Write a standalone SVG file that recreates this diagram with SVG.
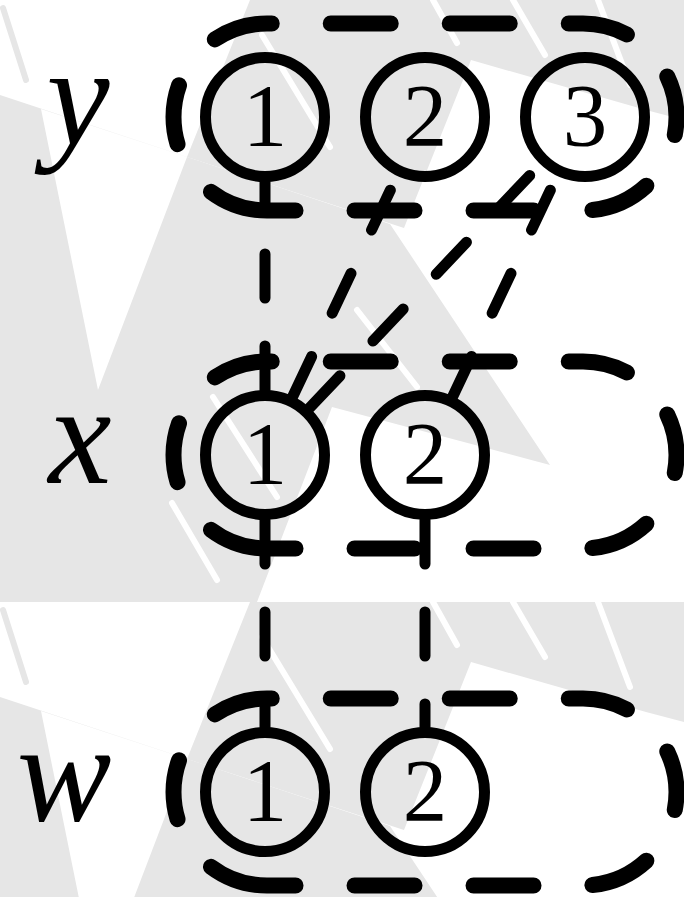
<svg xmlns="http://www.w3.org/2000/svg" width="684" height="897" viewBox="0 0 684 897">
<style>
.wm{fill:#e6e6e6;stroke:none}
.wml{stroke:#fff;stroke-width:6;stroke-linecap:round;fill:none}
.wmg{stroke:#e6e6e6;stroke-width:6;stroke-linecap:round;fill:none}
.box{fill:none;stroke:#000;stroke-width:16;stroke-linecap:round;stroke-dasharray:60 59}
.node{fill:none;stroke:#000;stroke-width:11}
.edge{fill:none;stroke:#000;stroke-width:11;stroke-linecap:round;stroke-dasharray:44 48}
.num{font-family:"Liberation Serif","Times New Roman",serif;font-size:89px;text-anchor:middle;fill:#000}
.lab{font-family:"Liberation Serif","Times New Roman",serif;font-style:italic;font-size:142px;text-anchor:middle;fill:#000}
</style>
<defs>
<g id="tile">
<path class="wm" fill-rule="evenodd" d="M0 95 L390 224 L550 465 L332 407 L257 602 L0 602 Z M41 109 L187 157 L98 390 Z"/>
<path class="wm" d="M250 0 H684 V120 L646 110 L471 60 L404 228 L187 157 Z"/>
<path class="wmg" d="M3 8 L26 80"/>
<path class="wml" d="M433 0 L457 43 M513 0 L545 55 M598 0 L630 85 M357 310 L417 387 M213 397 L277 497 M172 503 L217 580 M262 35 L330 147"/>
</g>
<path id="boxp" d="M267 93.5 A93.5 93.5 0 0 1 267 -93.5 H583 A93.5 93.5 0 0 1 583 93.5 Z"/>
</defs>
<g id="watermark">
<use href="#tile"/>
<use href="#tile" y="602"/>
</g>
<g id="group-y">
<use href="#boxp" class="box" y="117"/>
<text class="lab" x="78" y="145">y</text>
</g>
<g id="group-x">
<use href="#boxp" class="box" y="455"/>
<text class="lab" x="80" y="483">x</text>
</g>
<g id="group-w">
<use href="#boxp" class="box" y="792"/>
<text class="lab" x="64" y="821">w</text>
</g>
<g id="connectors">
<path class="edge" d="M265 390 L265 182"/>
<path class="edge" d="M292.8 396.3 L397.2 175.7"/>
<path class="edge" d="M309.7 407.8 L540.3 164.2"/>
<path class="edge" d="M452.8 396.3 L557.2 175.7"/>
<path class="edge" d="M265 520 L265 727"/>
<path class="edge" d="M425 520 L425 727"/>
</g>
<g id="y1"><circle class="node" cx="265" cy="117" r="59.5"/><text class="num" x="265" y="145">1</text></g>
<g id="y2"><circle class="node" cx="425" cy="117" r="59.5"/><text class="num" x="425" y="145">2</text></g>
<g id="y3"><circle class="node" cx="585" cy="117" r="59.5"/><text class="num" x="585" y="145">3</text></g>
<g id="x1"><circle class="node" cx="265" cy="455" r="59.5"/><text class="num" x="265" y="483">1</text></g>
<g id="x2"><circle class="node" cx="425" cy="455" r="59.5"/><text class="num" x="425" y="483">2</text></g>
<g id="w1"><circle class="node" cx="265" cy="792" r="59.5"/><text class="num" x="265" y="820">1</text></g>
<g id="w2"><circle class="node" cx="425" cy="792" r="59.5"/><text class="num" x="425" y="820">2</text></g>
</svg>
